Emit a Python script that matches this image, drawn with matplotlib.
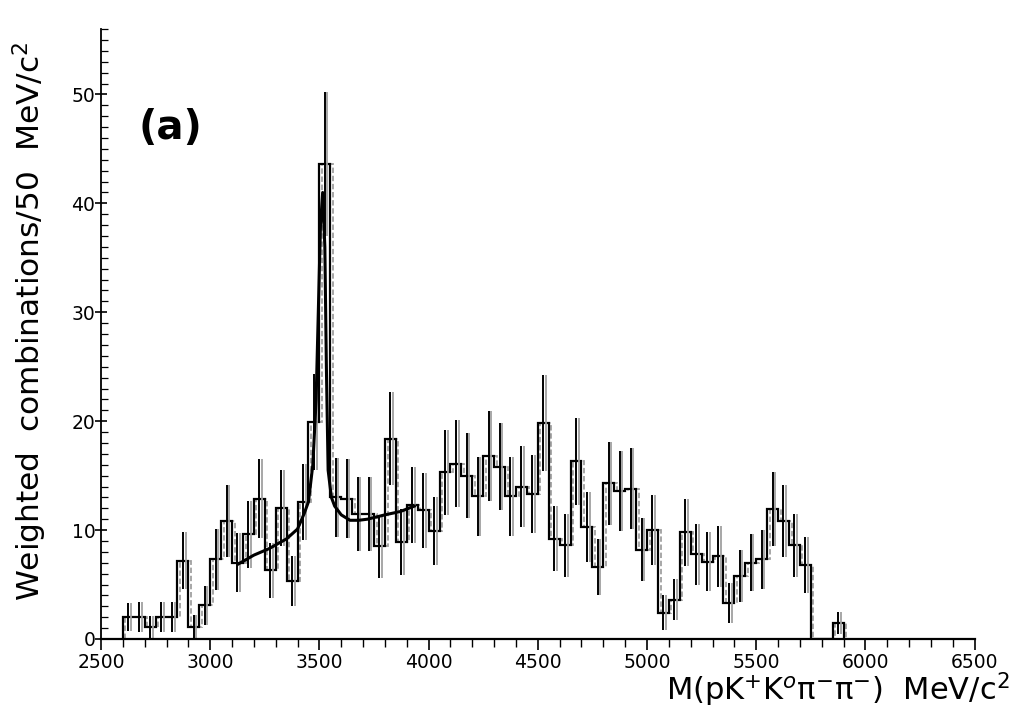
import numpy as np
import matplotlib
matplotlib.use("Agg")
import matplotlib.pyplot as plt
from matplotlib.ticker import MultipleLocator

# ── Data (50 MeV bins, lower edges) ──────────────────────────────────────────
bin_lo = [2600, 2650, 2700, 2750, 2800, 2850, 2900, 2950, 3000, 3050,
          3100, 3150, 3200, 3250, 3300, 3350, 3400, 3450, 3500, 3550,
          3600, 3650, 3700, 3750, 3800, 3850, 3900, 3950, 4000, 4050,
          4100, 4150, 4200, 4250, 4300, 4350, 4400, 4450, 4500, 4550,
          4600, 4650, 4700, 4750, 4800, 4850, 4900, 4950, 5000, 5050,
          5100, 5150, 5200, 5250, 5300, 5350, 5400, 5450, 5500, 5550,
          5600, 5650, 5700, 5750, 5800, 5850]
counts = [2.0, 2.0, 1.1, 2.0, 2.0, 7.2, 1.1, 3.1, 7.3, 10.8,
          7.0, 9.6, 12.9, 6.3, 12.0, 5.3, 12.6, 19.9, 43.6, 13.0,
          12.9, 11.5, 11.5, 8.5, 18.4, 8.9, 12.3, 11.8, 9.9, 15.3,
          16.1, 15.0, 13.1, 16.8, 15.8, 13.1, 14.0, 13.3, 19.8, 9.2,
          8.6, 16.3, 10.3, 6.6, 14.3, 13.6, 13.8, 8.2, 10.0, 2.4,
          3.6, 9.8, 7.8, 7.1, 7.6, 3.3, 5.8, 7.0, 7.3, 11.9,
          10.8, 8.6, 6.8, 0.0, 0.0, 1.5]
errors = [1.3, 1.4, 1.0, 1.4, 1.4, 2.6, 1.1, 1.8, 2.8, 3.3,
          2.7, 3.1, 3.6, 2.5, 3.5, 2.3, 3.5, 4.4, 6.6, 3.6,
          3.6, 3.4, 3.4, 2.9, 4.3, 3.0, 3.5, 3.4, 3.1, 3.9,
          4.0, 3.9, 3.6, 4.1, 4.0, 3.6, 3.7, 3.6, 4.4, 3.0,
          2.9, 4.0, 3.2, 2.6, 3.8, 3.7, 3.7, 2.9, 3.2, 1.6,
          1.9, 3.1, 2.8, 2.7, 2.8, 1.8, 2.4, 2.6, 2.7, 3.4,
          3.3, 2.9, 2.6, 0.0, 0.0, 1.0]

# fit curve (background + peak)
fit_m = [3130, 3200, 3270, 3350, 3400, 3430, 3450, 3470, 3485, 3495,
         3505, 3515, 3525, 3532, 3540, 3555, 3570, 3600, 3640, 3680,
         3720, 3800, 3870, 3935]
fit_v = [6.9, 7.7, 8.3, 9.2, 10.1, 11.5, 12.6, 16.0, 22.0, 30.0,
         38.0, 41.0, 36.0, 25.0, 15.5, 13.0, 12.2, 11.4, 10.9, 10.9,
         11.0, 11.4, 11.7, 12.2]

BIN_W = 50

# ── Figure ────────────────────────────────────────────────────────────────────
fig = plt.figure(figsize=(10.17, 7.15), dpi=100)
ax = fig.add_axes([0.0993, 0.1063, 0.859, 0.853])

edges = np.array(bin_lo + [bin_lo[-1] + BIN_W], dtype=float)
centres = np.array(bin_lo, dtype=float) + BIN_W / 2
vals = np.array(counts)
errs = np.array(errors)
has = vals > 0

# grey "ghost" copy, slightly shifted, as in the scanned original
shift = 12
ax.stairs(vals, edges + shift, color="#a0a0a0", linewidth=1.3, linestyle=(0, (3, 1.5)))
ax.errorbar(centres[has] + shift, vals[has], yerr=errs[has], fmt="none",
            ecolor="#a0a0a0", elinewidth=1.3, capsize=0, linestyle=(0, (3, 1.5)))

# main histogram
ax.stairs(vals, edges, color="black", linewidth=1.6)
ax.errorbar(centres[has], vals[has], yerr=errs[has], fmt="none",
            ecolor="black", elinewidth=1.4, capsize=0)

# fit
ax.plot(fit_m, fit_v, color="black", linewidth=2.2)

ax.set_xlim(2500, 6500)
ax.set_ylim(0, 56)

for side in ("top", "right"):
    ax.spines[side].set_visible(False)
ax.spines["left"].set_linewidth(1.3)
ax.spines["bottom"].set_linewidth(1.6)

ax.xaxis.set_major_locator(MultipleLocator(500))
ax.xaxis.set_minor_locator(MultipleLocator(100))
ax.yaxis.set_major_locator(MultipleLocator(10))
ax.yaxis.set_minor_locator(MultipleLocator(1))

ax.tick_params(axis="x", which="major", direction="out", length=8, width=1.2,
               labelsize=13.5, pad=2)
ax.tick_params(axis="x", which="minor", direction="out", length=6, width=1.0)
ax.tick_params(axis="y", which="major", direction="inout", length=8, width=1.2,
               labelsize=13.5, pad=0)
ax.tick_params(axis="y", which="minor", direction="in", length=5, width=0.9)

ax.text(2820, 46.9, "(a)", fontsize=29, fontweight="semibold",
        ha="center", va="center")

fig.text(0.0295, 0.16, "Weighted  combinations/50  MeV/c$^{2}$", rotation=90,
         fontsize=22.5, ha="center", va="bottom")
fig.text(0.993, 0.035,
         r"M(pK$^{+}$K$^{o}$π$^{-}$π$^{-}$)  MeV/c$^{2}$",
         fontsize=22, ha="right", va="center")

fig.savefig("out.png", dpi=100, facecolor="white")
